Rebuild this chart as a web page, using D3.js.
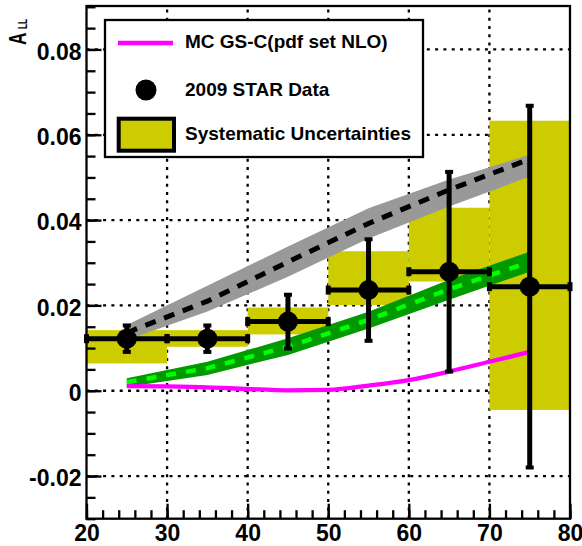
<!DOCTYPE html>
<html>
<head>
<meta charset="utf-8">
<script src="https://cdn.jsdelivr.net/npm/d3@7"></script>
<style>
  html, body { margin: 0; padding: 0; background: #fff; }
  svg { display: block; }
  text { font-family: "Liberation Sans", Arial, Helvetica, sans-serif; font-weight: bold; }
</style>
</head>
<body>
<svg id="chart" width="582" height="546"></svg>
<script>
// Bins in jet pT and measured double-helicity asymmetry
const binLow    = [20, 30, 40, 50, 60, 70];
const binHigh   = [30, 40, 50, 60, 70, 80];
const binCenter = [25, 35, 45, 55, 65, 75];
const asym      = [0.0122, 0.0122, 0.0162, 0.0236, 0.0279, 0.0244];
const statErr   = [0.0031, 0.0031, 0.0063, 0.0119, 0.0234, 0.0424];
const sysLow    = [0.0064, 0.0103, 0.0132, 0.0201, 0.0256, -0.0045];
const sysHigh   = [0.0142, 0.0142, 0.0195, 0.0327, 0.0429, 0.0633];

// Theory band (gray) with central dashed curve
const grayMid   = [0.0136, 0.0210, 0.0302, 0.0392, 0.0471, 0.0543];
const grayLow   = [0.0119, 0.0186, 0.0267, 0.0357, 0.0432, 0.0502];
const grayHigh  = [0.0154, 0.0246, 0.0338, 0.0428, 0.0495, 0.0553];

// Theory band (green) with central dashed curve
const greenMid  = [0.0020, 0.0053, 0.0103, 0.0166, 0.0238, 0.0302];
const greenLow  = [0.0009, 0.0037, 0.0084, 0.0146, 0.0213, 0.0279];
const greenHigh = [0.0029, 0.0068, 0.0123, 0.0185, 0.0260, 0.0326];

// MC GS-C curve
const mcX = [25, 30, 35, 40, 45, 50, 55, 60, 65, 70, 75];
const mcY = [0.0011, 0.0010, 0.0008, 0.0004, 0.0001, 0.0002, 0.0012, 0.0025, 0.0045, 0.0068, 0.0091];

// Axis ticks
const xMajor = [20, 30, 40, 50, 60, 70, 80];
const xMinor = d3.range(20, 80.1, 2);
const yMajor = [-0.02, 0, 0.02, 0.04, 0.06, 0.08];
const yMinor = d3.range(-0.03, 0.0901, 0.005);

const legendLabels = ["MC GS-C(pdf set NLO)", "2009 STAR Data", "Systematic Uncertainties"];

const colors = {
  sys: "#cccc00",
  gray: "#999999",
  green: "#009900",
  greenDash: "#00ff00",
  mc: "#ff00ff"
};

const svg = d3.select("#chart");
const L = 86.5, R = 570, T = 6.8, B = 518.7;

const x = d3.scaleLinear().domain([20, 80]).range([L, R]);
const y = d3.scaleLinear().domain([-0.03, 0.09]).range([B, T]);

// Grid
const grid = svg.append("g").attr("stroke", "#000").attr("stroke-width", 2.3).attr("stroke-dasharray", "3 5.3");
grid.selectAll(".gx").data(xMajor.slice(1, -1)).enter().append("line")
  .attr("x1", d => x(d)).attr("x2", d => x(d)).attr("y1", B).attr("y2", T);
grid.selectAll(".gy").data(yMajor).enter().append("line")
  .attr("x1", L).attr("x2", R).attr("y1", d => y(d)).attr("y2", d => y(d));

// Systematic uncertainty boxes
svg.append("g").selectAll("rect").data(binLow).enter().append("rect")
  .attr("x", (d, i) => x(binLow[i]))
  .attr("width", (d, i) => x(binHigh[i]) - x(binLow[i]))
  .attr("y", (d, i) => y(sysHigh[i]))
  .attr("height", (d, i) => y(sysLow[i]) - y(sysHigh[i]))
  .attr("fill", colors.sys);

// Theory bands
const area = (lo, hi) => d3.area()
  .x((d, i) => x(binCenter[i]))
  .y0((d, i) => y(lo[i]))
  .y1((d, i) => y(hi[i]));
const line = (vals, xs) => d3.line().x((d, i) => x(xs[i])).y(d => d)(vals.map(v => y(v)));

svg.append("path").attr("d", area(grayLow, grayHigh)(binCenter)).attr("fill", colors.gray);
svg.append("path").attr("d", line(grayMid, binCenter))
  .attr("fill", "none").attr("stroke", "#000").attr("stroke-width", 5).attr("stroke-dasharray", "11 9");

svg.append("path").attr("d", area(greenLow, greenHigh)(binCenter)).attr("fill", colors.green);
svg.append("path").attr("d", line(greenMid, binCenter))
  .attr("fill", "none").attr("stroke", colors.greenDash).attr("stroke-width", 4.5).attr("stroke-dasharray", "10 10");

// MC curve
svg.append("path")
  .attr("d", d3.line().curve(d3.curveMonotoneX).x((d, i) => x(mcX[i])).y(d => y(d))(mcY))
  .attr("fill", "none").attr("stroke", colors.mc).attr("stroke-width", 4.3);

// Data points with statistical error bars
const pts = svg.append("g").attr("fill", "#000");
binCenter.forEach((c, i) => {
  const cy = y(asym[i]);
  const top = y(asym[i] + statErr[i]), bot = y(asym[i] - statErr[i]);
  const xl = x(binLow[i]), xr = x(binHigh[i]), cx = x(c);
  pts.append("line").attr("x1", xl).attr("x2", xr).attr("y1", cy).attr("y2", cy)
    .attr("stroke", "#000").attr("stroke-width", 5);
  pts.append("line").attr("x1", cx).attr("x2", cx).attr("y1", top).attr("y2", bot)
    .attr("stroke", "#000").attr("stroke-width", 5);
  // end caps
  pts.append("rect").attr("x", xl - 2.5).attr("y", cy - 4.5).attr("width", 5).attr("height", 9);
  pts.append("rect").attr("x", xr - 2.5).attr("y", cy - 4.5).attr("width", 5).attr("height", 9);
  pts.append("rect").attr("x", cx - 4).attr("y", top - 2).attr("width", 8).attr("height", 4);
  pts.append("rect").attr("x", cx - 4).attr("y", bot - 2).attr("width", 8).attr("height", 4);
  pts.append("circle").attr("cx", cx).attr("cy", cy).attr("r", 10);
});

// Frame
svg.append("rect").attr("x", L).attr("y", T - 0.8).attr("width", R - L).attr("height", B - T + 0.8)
  .attr("fill", "none").attr("stroke", "#000").attr("stroke-width", 2.3);

// Axes (ticks inside the frame)
function styleAxis(g) {
  g.select(".domain").remove();
  g.selectAll(".tick line").attr("stroke", "#000").attr("stroke-width", 2.3);
}
svg.append("g").attr("transform", `translate(${L},0)`)
  .call(d3.axisLeft(y).tickValues(yMinor).tickSize(-9).tickFormat(""))
  .call(styleAxis);
const yAx = svg.append("g").attr("transform", `translate(${L},0)`)
  .call(d3.axisLeft(y).tickValues(yMajor).tickSize(-15).tickPadding(5)
    .tickFormat(d => Math.abs(d) < 1e-9 ? "0" : d.toFixed(2)))
  .call(styleAxis);
yAx.selectAll("text").attr("font-size", 23).attr("font-family", null).attr("fill", "#000").attr("dy", "0.43em");

svg.append("g").attr("transform", `translate(0,${B})`)
  .call(d3.axisBottom(x).tickValues(xMinor).tickSize(-8.5).tickFormat(""))
  .call(styleAxis);
const xAx = svg.append("g").attr("transform", `translate(0,${B})`)
  .call(d3.axisBottom(x).tickValues(xMajor).tickSize(-15).tickPadding(6).tickFormat(d3.format("d")))
  .call(styleAxis);
xAx.selectAll("text").attr("font-size", 23).attr("font-family", null).attr("fill", "#000");

// Y axis title A_LL (rotated, narrow glyphs)
svg.append("text").attr("transform", "translate(26,45) rotate(-90) scale(0.72,1)")
  .attr("font-size", 24).attr("fill", "#000").text("A");
svg.append("text").attr("transform", "translate(27,29) rotate(-90) scale(0.68,1)")
  .attr("font-size", 12).attr("fill", "#000").text("LL");

// Legend
const lg = svg.append("g");
lg.append("rect").attr("x", 105).attr("y", 20).attr("width", 318).attr("height", 137)
  .attr("fill", "#fff").attr("stroke", "#000").attr("stroke-width", 2.3);
lg.append("line").attr("x1", 118).attr("x2", 173).attr("y1", 43).attr("y2", 43)
  .attr("stroke", colors.mc).attr("stroke-width", 4.3);
lg.append("circle").attr("cx", 146).attr("cy", 90).attr("r", 10.5).attr("fill", "#000");
lg.append("rect").attr("x", 118.7).attr("y", 118.7).attr("width", 55.3).attr("height", 32)
  .attr("fill", colors.sys).attr("stroke", "#000").attr("stroke-width", 4);
const lgY = [48, 96, 139.5];
legendLabels.forEach((t, i) => {
  lg.append("text").attr("x", 185).attr("y", lgY[i]).attr("font-size", 19).attr("fill", "#000").text(t);
});
</script>
</body>
</html>
